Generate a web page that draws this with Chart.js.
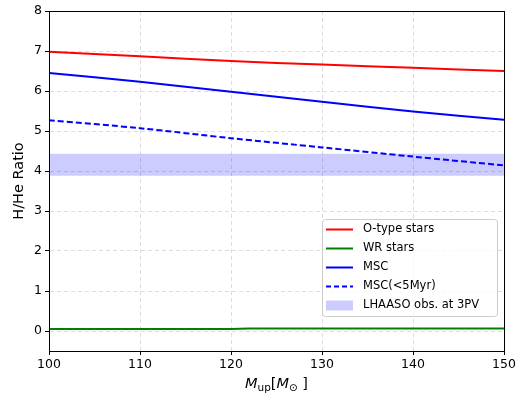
<!DOCTYPE html>
<html>
<head>
<meta charset="utf-8">
<script src="https://cdn.jsdelivr.net/npm/chart.js@4.4.1/dist/chart.umd.min.js"></script>
<style>
  html, body { margin: 0; padding: 0; background: #fff; }
  #wrap { width: 522px; height: 395px; position: relative; }
</style>
</head>
<body>
<div id="wrap"><canvas id="chart"></canvas></div>
<script>
// Data
const massUp = [100, 110, 120, 130, 140, 150];
const oTypeStars = [6.98, 6.87, 6.75, 6.66, 6.58, 6.50];
const msc = [6.45, 6.23, 5.98, 5.73, 5.49, 5.28];
const mscYoung = [5.27, 5.07, 4.82, 4.59, 4.36, 4.14];
const wrMass = [100, 110, 120, 122, 130, 140, 150];
const wrStars = [0.05, 0.05, 0.05, 0.06, 0.06, 0.06, 0.06];
const bandMass = [100, 150];
const bandUpper = [4.43, 4.43];
const bandLower = [3.88, 3.88];
const yTicks = [0, 1, 2, 3, 4, 5, 6, 7, 8];

const legendItems = [
  { label: 'O-type stars', color: '#ff0000', dash: [] },
  { label: 'WR stars', color: '#008000', dash: [] },
  { label: 'MSC', color: '#0000ff', dash: [] },
  { label: 'MSC(<5Myr)', color: '#0000ff', dash: [5, 3] },
  { label: 'LHAASO obs. at 3PV', patch: 'rgba(0,0,255,0.2)' },
];

const pts = (xs, ys) => xs.map((x, i) => ({ x, y: ys[i] }));
const FONT = '"DejaVu Sans", sans-serif';

// frame, axis titles and legend
const decor = {
  id: 'decor',
  afterDraw(chart) {
    const { ctx, chartArea: a } = chart;
    ctx.save();
    ctx.strokeStyle = '#000';
    ctx.lineWidth = 1;
    ctx.strokeRect(Math.round(a.left) + 0.5, Math.round(a.top) + 0.5,
      Math.round(a.right - a.left), Math.round(a.bottom - a.top));

    // y title
    ctx.fillStyle = '#000';
    ctx.font = '14.5px ' + FONT;
    ctx.textAlign = 'center';
    ctx.textBaseline = 'middle';
    ctx.translate(19, (a.top + a.bottom) / 2);
    ctx.rotate(-Math.PI / 2);
    ctx.fillText('H/He Ratio', 0, 0);
    ctx.restore();

    // x title: M_up[M_sun]
    ctx.save();
    ctx.fillStyle = '#000';
    ctx.textBaseline = 'alphabetic';
    const parts = [
      { t: 'M', f: 'italic 14.5px ' + FONT, dy: 0 },
      { t: 'up', f: '10.5px ' + FONT, dy: 3 },
      { t: '[', f: '14.5px ' + FONT, dy: 0 },
      { t: 'M', f: 'italic 14.5px ' + FONT, dy: 0 },
      { t: '\u2299', f: '10.5px ' + FONT, dy: 3 },
      { t: ' ]', f: '14.5px ' + FONT, dy: 0 },
    ];
    let w = 0;
    parts.forEach(p => { ctx.font = p.f; p.w = ctx.measureText(p.t).width; w += p.w; });
    let x = (a.left + a.right) / 2 - w / 2;
    const y = 388;
    parts.forEach(p => { ctx.font = p.f; ctx.fillText(p.t, x, y + p.dy); x += p.w; });
    ctx.restore();

    // legend
    ctx.save();
    const bx = 322, by = 219, bw = 175, bh = 97;
    ctx.fillStyle = 'rgba(255,255,255,0.8)';
    ctx.strokeStyle = '#cccccc';
    ctx.lineWidth = 1;
    ctx.beginPath();
    ctx.roundRect(bx + 0.5, by + 0.5, bw, bh, 3);
    ctx.fill();
    ctx.stroke();
    ctx.font = '11.5px ' + FONT;
    ctx.textBaseline = 'middle';
    ctx.textAlign = 'left';
    legendItems.forEach((it, i) => {
      const ly = 229.5 + i * 19;
      if (it.patch) {
        ctx.fillStyle = it.patch;
        ctx.fillRect(326, ly - 5, 27, 10);
      } else {
        ctx.strokeStyle = it.color;
        ctx.lineWidth = 2;
        ctx.setLineDash(it.dash);
        ctx.beginPath();
        ctx.moveTo(326, ly);
        ctx.lineTo(353, ly);
        ctx.stroke();
        ctx.setLineDash([]);
      }
      ctx.fillStyle = '#000';
      ctx.fillText(it.label, 363, ly);
    });
    ctx.restore();
  }
};

const lineStyle = (color, dash) => ({
  borderColor: color,
  backgroundColor: color,
  borderWidth: 2,
  borderDash: dash || [],
  pointRadius: 0,
  fill: false,
  tension: 0.3,
});

new Chart(document.getElementById('chart'), {
  type: 'line',
  data: {
    datasets: [
      { data: pts(bandMass, bandUpper), borderWidth: 0, pointRadius: 0, fill: '+1',
        backgroundColor: 'rgba(0,0,255,0.2)', borderColor: 'rgba(0,0,0,0)', order: 10 },
      { data: pts(bandMass, bandLower), borderWidth: 0, pointRadius: 0, fill: false,
        borderColor: 'rgba(0,0,0,0)', order: 11 },
      { data: pts(massUp, oTypeStars), ...lineStyle('#ff0000'), order: 4 },
      { data: pts(wrMass, wrStars), ...lineStyle('#008000'), tension: 0, order: 3 },
      { data: pts(massUp, msc), ...lineStyle('#0000ff'), order: 2 },
      { data: pts(massUp, mscYoung), ...lineStyle('#0000ff', [6, 3]), order: 1 },
    ],
  },
  options: {
    responsive: true,
    maintainAspectRatio: false,
    animation: false,
    layout: { padding: { left: 0, top: 11, right: 18, bottom: 0 } },
    scales: {
      x: {
        type: 'linear',
        min: 100,
        max: 150,
        afterFit: (scale) => { scale.height = 44; },
        ticks: { stepSize: 10, color: '#000', font: { family: FONT, size: 12.5 }, padding: 2, maxRotation: 0 },
        grid: { color: '#dddddd', tickColor: '#000', tickLength: 4 },
        border: { display: true, color: '#000', dash: [4, 3] },
      },
      y: {
        min: -0.5,
        max: 8,
        afterFit: (scale) => { scale.width = 49; },
        afterBuildTicks: (scale) => { scale.ticks = yTicks.map(v => ({ value: v })); },
        ticks: { color: '#000', font: { family: FONT, size: 12.5 }, padding: 3 },
        grid: { color: '#dddddd', tickColor: '#000', tickLength: 4 },
        border: { display: true, color: '#000', dash: [4, 3] },
      },
    },
    plugins: {
      legend: { display: false },
      tooltip: { enabled: false },
    },
  },
  plugins: [decor],
});
</script>
</body>
</html>
